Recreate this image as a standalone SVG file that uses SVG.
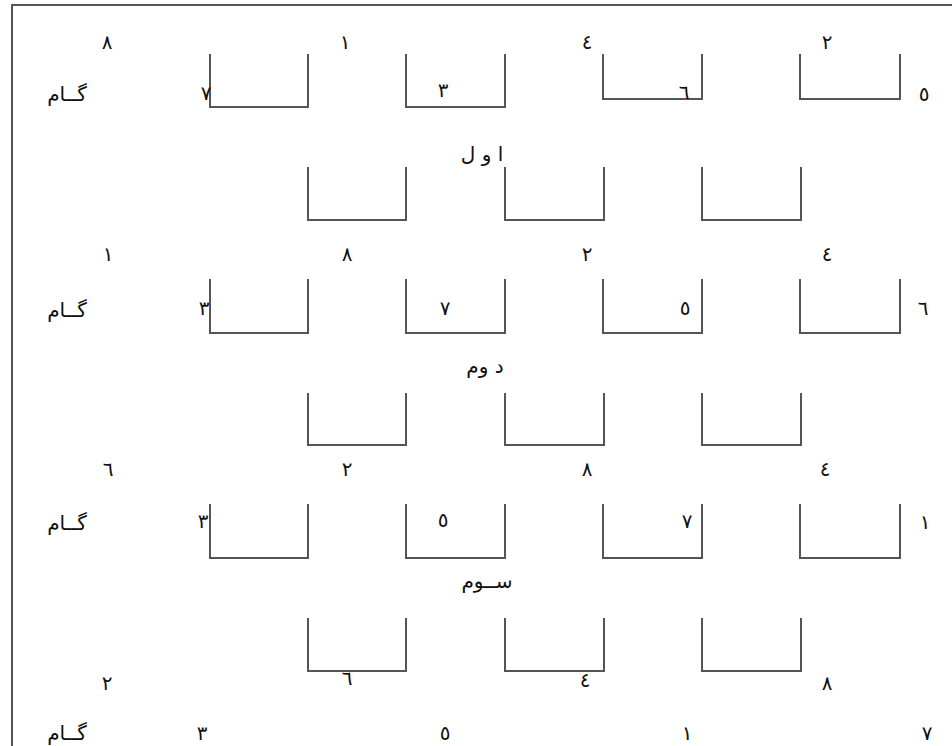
<svg xmlns="http://www.w3.org/2000/svg" width="952" height="746" viewBox="0 0 952 746">
<style>
.cup{fill:none;stroke:#555;stroke-width:2}
.frame{fill:none;stroke:#555;stroke-width:2}
.d{font-family:"DejaVu Sans","Noto Sans",sans-serif;font-size:20px;fill:#111;text-anchor:middle}
.w{font-family:"DejaVu Sans","Noto Sans",sans-serif;font-size:20px;fill:#111;text-anchor:middle}
</style>
<rect width="952" height="746" fill="#fff"/>
<path class="frame" d="M12,746 V5 H952"/>
<g id="cups">
<g id="r1u"><path class="cup" d="M210,54V107H308V54"/><path class="cup" d="M406,54V107H505V54"/><path class="cup" d="M603,54V99H702V54"/><path class="cup" d="M800,54V99H900V54"/></g>
<g id="r1l"><path class="cup" d="M308,167V220H406V167"/><path class="cup" d="M505,167V220H604V167"/><path class="cup" d="M702,167V220H801V167"/></g>
<g id="r2u"><path class="cup" d="M210,279V333H308V279"/><path class="cup" d="M406,279V333H505V279"/><path class="cup" d="M603,279V333H702V279"/><path class="cup" d="M800,279V333H900V279"/></g>
<g id="r2l"><path class="cup" d="M308,393V445H406V393"/><path class="cup" d="M505,393V445H604V393"/><path class="cup" d="M702,393V445H801V393"/></g>
<g id="r3u"><path class="cup" d="M210,504V558H308V504"/><path class="cup" d="M406,504V558H505V504"/><path class="cup" d="M603,504V558H702V504"/><path class="cup" d="M800,504V558H900V504"/></g>
<g id="r3l"><path class="cup" d="M308,618V671H406V618"/><path class="cup" d="M505,618V671H604V618"/><path class="cup" d="M702,618V671H801V618"/></g>
</g>
<g id="step1">
<text class="d" x="107" y="49">٨</text><text class="d" x="345" y="49">١</text><text class="d" x="587" y="49">٤</text><text class="d" x="827" y="49">٢</text>
<text class="w" x="67" y="101">گــام</text>
<text class="d" x="206" y="100">٧</text><text class="d" x="443" y="97">٣</text><text class="d" x="684" y="99">٦</text><text class="d" x="924" y="101">٥</text>
<text class="w" x="482" y="161">ا و ل</text>
</g>
<g id="step2">
<text class="d" x="108" y="261">١</text><text class="d" x="347" y="261">٨</text><text class="d" x="587" y="261">٢</text><text class="d" x="827" y="261">٤</text>
<text class="w" x="67" y="317">گــام</text>
<text class="d" x="204" y="315">٣</text><text class="d" x="445" y="315">٧</text><text class="d" x="685" y="315">٥</text><text class="d" x="923" y="315">٦</text>
<text class="w" x="485" y="373">د وم</text>
<text class="d" x="108" y="476">٦</text><text class="d" x="347" y="476">٢</text><text class="d" x="587" y="476">٨</text><text class="d" x="825" y="476">٤</text>
</g>
<g id="step3">
<text class="w" x="67" y="530">گــام</text>
<text class="d" x="203" y="528">٣</text><text class="d" x="443" y="527">٥</text><text class="d" x="687" y="528">٧</text><text class="d" x="925" y="529">١</text>
<text class="w" x="487" y="588">ســوم</text>
<text class="d" x="107" y="690">٢</text><text class="d" x="347" y="685">٦</text><text class="d" x="585" y="687">٤</text><text class="d" x="827" y="690">٨</text>
</g>
<g id="step4">
<text class="w" x="67" y="740">گــام</text>
<text class="d" x="202" y="740">٣</text><text class="d" x="445" y="740">٥</text><text class="d" x="687" y="740">١</text><text class="d" x="927" y="740">٧</text>
</g>
</svg>
